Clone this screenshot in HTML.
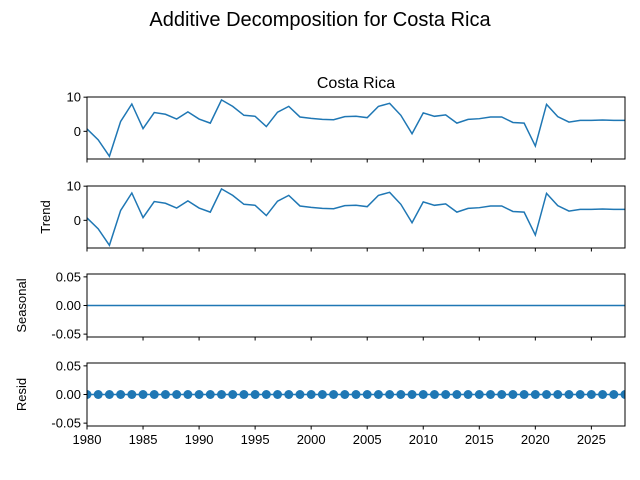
<!DOCTYPE html>
<html><head><meta charset="utf-8"><style>
body{margin:0;background:#fff}
svg{display:block;font-family:"Liberation Sans","DejaVu Sans",sans-serif}
</style></head><body>
<svg id="chart" width="640" height="480">
<text x="320" y="26" text-anchor="middle" font-size="20">Additive Decomposition for Costa Rica</text>
<text x="356" y="88" text-anchor="middle" font-size="16">Costa Rica</text>
</svg>
<script>
const years = [];
for (let y = 1980; y <= 2028; y++) years.push(y);
const observed = [0.7,-2.5,-7.3,2.9,8.0,0.8,5.5,5.0,3.6,5.7,3.6,2.4,9.2,7.3,4.7,4.4,1.4,5.6,7.3,4.2,3.8,3.5,3.4,4.3,4.4,4.0,7.3,8.2,4.7,-0.7,5.4,4.4,4.8,2.4,3.5,3.7,4.2,4.2,2.6,2.4,-4.3,7.9,4.3,2.7,3.2,3.2,3.3,3.2,3.2];
const trend = observed.slice();
const seasonal = years.map(()=>0);
const resid = years.map(()=>0);
const xTicks = [1980,1985,1990,1995,2000,2005,2010,2015,2020,2025];
const panelLabels = ["", "Trend", "Seasonal", "Resid"];
const ticks1 = [0,10];
const ticksSmall = [-0.05,0,0.05];

const NS="http://www.w3.org/2000/svg";
const svg=document.getElementById('chart');
const X0=87,X1=625;
const xs=v=>X0+(v-1980)/(2028-1980)*(X1-X0);
function mk(t,a,p){const e=document.createElementNS(NS,t);for(const k in a)e.setAttribute(k,a[k]);(p||svg).appendChild(e);return e;}
const panels=[
 {top:97,bot:159,min:-8.1,max:10.05,data:observed,ticks:ticks1,fmt:v=>String(v),name:"observed"},
 {top:186,bot:248,min:-8.1,max:10.05,data:trend,ticks:ticks1,fmt:v=>String(v),name:"trend"},
 {top:274,bot:337,min:-0.055,max:0.055,data:seasonal,ticks:ticksSmall,fmt:v=>v.toFixed(2),name:"seasonal"},
 {top:363,bot:426,min:-0.055,max:0.055,data:resid,ticks:ticksSmall,fmt:v=>v.toFixed(2),name:"resid",markers:true}
];
panels.forEach((p,i)=>{
 const g=mk('g',{});
 
 
 const ys=v=>p.bot-(v-p.min)/(p.max-p.min)*(p.bot-p.top);
 const clip=mk('clipPath',{id:'c'+i},g);mk('rect',{x:X0,y:p.top,width:X1-X0,height:p.bot-p.top},clip);
 const pts=p.data.map((v,j)=>xs(years[j]).toFixed(2)+','+ys(v).toFixed(2)).join(' ');
 const line=mk('polyline',{points:pts,fill:'none',stroke:'#1f77b4','stroke-width':1.5,'clip-path':'url(#c'+i+')'},g);
 
 
 if(p.markers){p.data.forEach((v,j)=>{const c=mk('circle',{cx:xs(years[j]),cy:ys(v),r:4.5,fill:'#1f77b4','clip-path':'url(#c'+i+')'},g);
  
  });}
 mk('rect',{x:X0,y:p.top,width:X1-X0,height:p.bot-p.top,fill:'none',stroke:'#000','stroke-width':1},g);
 p.ticks.forEach(t=>{const y=ys(t);mk('line',{x1:X0-3.5,x2:X0,y1:y,y2:y,stroke:'#000'},g);
  const tx=mk('text',{x:X0-6,y:y+4.5,'text-anchor':'end','font-size':13},g);tx.textContent=p.fmt(t);
  
  });
 xTicks.forEach(t=>{const x=xs(t);mk('line',{x1:x,x2:x,y1:p.bot,y2:p.bot+3.5,stroke:'#000'},g);
  if(i===3){const tx=mk('text',{x:x,y:p.bot+18,'text-anchor':'middle','font-size':13},g);tx.textContent=t;
   
   }});
 if(panelLabels[i]){const cy=(p.top+p.bot)/2;const lb=mk('text',{x:0,y:0,'text-anchor':'middle','font-size':13,transform:`translate(${i===1?50:26},${cy}) rotate(-90)`},g);lb.textContent=panelLabels[i];
  
  }
});
</script>
</body></html>
